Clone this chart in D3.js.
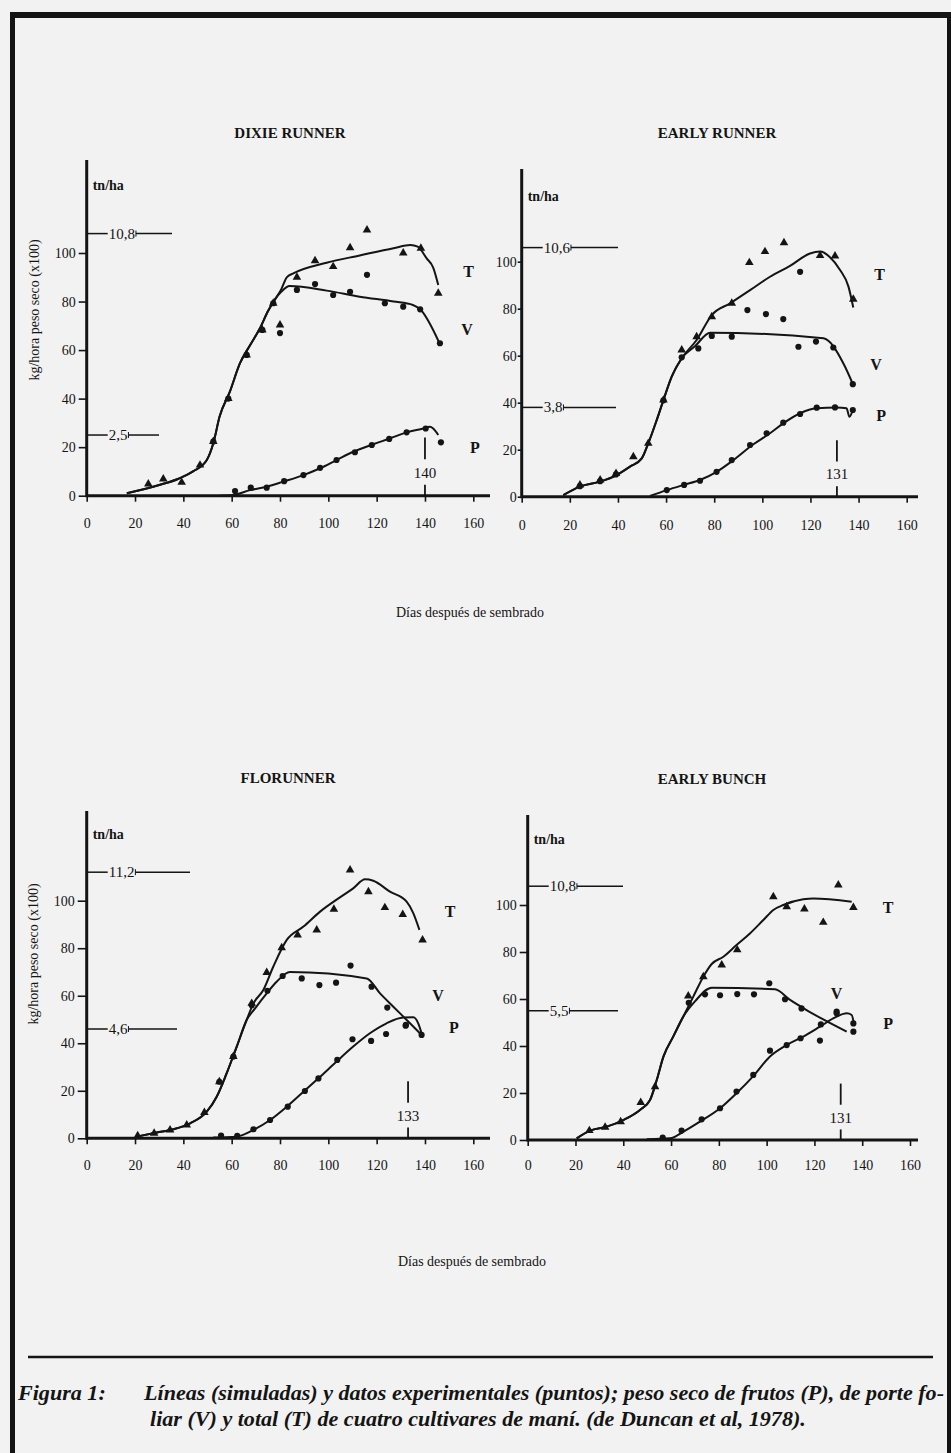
<!DOCTYPE html>
<html>
<head>
<meta charset="utf-8">
<script src="https://cdn.jsdelivr.net/npm/d3@7"></script>
<style>
  body { margin: 0; background: #f2f2f2; }
  svg { display: block; }
  text { font-family: "Liberation Serif", "Times New Roman", serif; fill: #141414; }
</style>
</head>
<body>
<svg id="fig" width="951" height="1453"></svg>
<script>
// ---- data: [dias, kg/hora x100] ----
const xTicks = [0, 20, 40, 60, 80, 100, 120, 140, 160];
const yTicks = [0, 20, 40, 60, 80, 100];
const cultivars = ["DIXIE RUNNER", "EARLY RUNNER", "FLORUNNER", "EARLY BUNCH"];
const harvestDays = [140, 131, 133, 131];
const refValues = [[108, 25], [106, 38], [112, 46], [108, 55]];
const refLabels = [["10,8", "2,5"], ["10,6", "3,8"], ["11,2", "4,6"], ["10,8", "5,5"]];

// DIXIE RUNNER
const dixieLineT = [[16.6,1],[30,4.4],[38,7],[44,10],[49.7,14.7],[52.4,21.6],[55,32.6],[59.3,43],[63.4,54.5],[67.6,62],[71.7,69],[75,76],[78,81],[80.5,85],[82.8,90],[85.5,91.6],[99.3,96],[113,99],[127,102],[134,103.3],[137,102.6],[140.7,97.8],[143.4,94],[145.5,86.8]];
const dixieLineV = [[16.6,1],[30,4.4],[38,7],[44,10],[49.7,14.7],[52.4,21.6],[55,32.6],[59.3,43],[63.4,54.5],[67.6,62],[71.7,69],[75,76],[78,81],[80.5,84],[84,86.4],[99.3,84.5],[113,82],[127,80],[135,78.6],[138,76.8],[146,62.8]];
const dixieLineP = [[55,0],[60.7,0.3],[67.6,2.3],[74.5,3.7],[81.4,5.8],[89.7,8.5],[96.6,11.3],[103.4,14.7],[110.3,18.1],[118.6,21.2],[125.5,23.6],[132.4,26.1],[139.3,27.7],[142,28.4],[143.4,27.7],[145.5,25]];
const dixieObsT = [[25.5,4.8],[31.7,6.9],[39.3,5.5],[46.9,12.6],[52.4,22.3],[58.6,40],[66.2,58],[72.7,68.3],[77.2,79.3],[80,70.3],[87,90],[94.5,96.8],[102,94.4],[109,102.2],[116,109.5],[131,100],[138.3,102],[145.5,83.4]];
const dixieObsV = [[52.4,22.3],[58.6,40],[66.2,58],[72.7,68.3],[77.2,79.3],[80,67],[87,84.8],[94.5,87.2],[102,82.7],[109,84],[116,91],[123.4,79.3],[131,77.9],[138,76.8],[146.2,62.8]];
const dixieObsP = [[61.4,1.9],[67.9,3.3],[74.5,3.3],[81.7,6],[89.7,8.5],[96.6,11.5],[103.4,14.7],[111,17.9],[118,20.9],[125.2,23.4],[132.4,26.1],[140.3,27.7],[146.6,22]];

// EARLY RUNNER
const earlyRunnerLineT = [[17.3,0.7],[24.2,4.3],[32.6,6.4],[39.5,9.2],[45,12.8],[49.9,16.3],[52.6,22.7],[56.1,32.6],[58.9,41.1],[62.3,51],[66.5,58.9],[72.7,66.7],[79,77.3],[86.6,82.3],[94.9,87.9],[103.2,93.6],[111.5,98.2],[119.8,103.5],[124,104.3],[128,102],[132.3,96.5],[135.8,89.4],[137.8,80.5]];
const earlyRunnerLineV = [[17.3,0.7],[24.2,4.3],[32.6,6.4],[39.5,9.2],[45,12.8],[49.9,16.3],[52.6,22.7],[56.1,32.6],[58.9,41.1],[62.3,51],[66.5,58.9],[72,64],[78.3,69.8],[125.4,67.4],[133.7,56.7],[137.8,47.5]];
const earlyRunnerLineP = [[53.3,0.3],[60.3,2.8],[67.2,5],[74.1,7.1],[81,10.6],[88,15.6],[96.3,22.3],[103.2,27],[108.7,31.2],[115.7,35.5],[122.6,37.6],[130.9,38],[135,37.6],[136.2,34],[137.6,36.9]];
const earlyRunnerObsT = [[24.2,5],[32.6,7.1],[39.2,9.9],[46.4,17],[52.6,22.7],[58.9,41.1],[66.5,62.4],[72.7,68.1],[79,76.6],[87.3,82.3],[94.6,99.6],[101.1,104.3],[109,108.1],[124,102.6],[130.2,102.4],[137.8,84]];
const earlyRunnerObsV = [[24.2,4.5],[32.6,6.6],[39.2,9.5],[58.9,41],[66.5,59.3],[73.4,63.1],[79,68.4],[87.3,68.1],[93.8,79.4],[101.5,77.7],[108.7,75.6],[115.7,95.7],[115,63.8],[122.3,66],[129.5,63.5],[137.6,47.9]];
const earlyRunnerObsP = [[60.3,2.8],[67.5,5],[74.1,6.8],[81,10.6],[87.3,15.6],[94.9,22],[101.8,27],[108.7,31.5],[115.7,35.2],[122.6,37.9],[130.2,38],[137.6,36.9]];

// FLORUNNER
const florunnerLineT = [[20.7,0.7],[29,2.4],[35.9,3.8],[42.8,6.3],[49.7,11.2],[53.8,17.5],[57.9,27.3],[62.1,38.6],[66.2,49.8],[69,56.8],[73.1,62.4],[77.2,72.2],[82.8,83.5],[89.7,89.1],[96.6,95.4],[104.8,101.4],[110.3,105.2],[115.2,109],[118.6,108.4],[125.5,103.8],[132.4,99.6],[135.2,94.7],[137.7,87.7]];
const florunnerLineV = [[20.7,0.7],[29,2.4],[35.9,3.8],[42.8,6.3],[49.7,11.2],[53.8,17.5],[57.9,27.3],[62.1,38.6],[66.2,49.8],[69.7,54.7],[74.5,61],[78.6,65.9],[84.1,70],[115.9,67.3],[121.4,61],[126.9,55.4],[133.8,48.4],[137.9,44.2]];
const florunnerLineP = [[52.4,0.3],[62,0.7],[69,3.5],[75.9,7.7],[82.8,13.3],[89.7,19.6],[96.6,25.9],[103.4,32.3],[110.3,38.6],[117.2,44.2],[124.1,48.4],[131,50.8],[135.2,50.9],[137.2,48.4],[138.6,44.2]];
const florunnerObsT = [[21.1,1.1],[27.9,2.1],[34.5,3.5],[41.4,5.6],[48.7,10.9],[54.9,23.8],[60.7,34.4],[68.3,56.8],[74.5,69.8],[80.7,80.2],[87.3,85.6],[95.2,87.7],[102.3,96.4],[109,112.9],[116.6,103.8],[123.4,97.1],[130.8,94.2],[139,83.5]];
const florunnerObsV = [[54.9,23.8],[60.7,34.4],[68.3,56],[74.8,62.1],[81.1,68.3],[89,67.3],[96.3,64.5],[103.2,65.5],[109.2,72.7],[117.9,63.8],[124.4,55],[132.1,47.7],[138.6,43.5]];
const florunnerObsP = [[55.6,1.1],[62.3,1],[69,3.8],[75.9,7.7],[83.2,13.3],[90.3,19.9],[95.9,25.2],[103.7,33],[110,41.7],[117.7,41],[123.9,43.9],[132,47.4]];

// EARLY BUNCH
const earlyBunchLineT = [[20.5,0.7],[26.1,4],[33.1,5.7],[40,8.5],[47,12.8],[51.2,17],[54,25.5],[56.8,35.5],[60.9,44],[65.1,52.5],[69.3,61],[73.5,69.5],[77,74.9],[81.9,78],[87.4,83],[93,87.9],[98.6,93.6],[102.8,97.9],[107,100],[115.3,102.4],[119.5,102.8],[135.6,101.4]];
const earlyBunchLineV = [[20.5,0.7],[26.1,4],[33.1,5.7],[40,8.5],[47,12.8],[51.2,17],[54,25.5],[56.8,35.5],[60.9,44],[65.1,52.5],[70,59],[77,64.8],[103.5,64.1],[109.8,59.6],[116.7,55.3],[123.7,51.3],[133.5,46.1]];
const earlyBunchLineP = [[49.8,0.3],[59.6,0.7],[65.1,3.5],[72.1,7.8],[80.5,13.5],[87.4,19.9],[94.4,27.2],[101.4,35.5],[108.4,40.4],[115.3,44],[122.3,48.2],[129.3,52.5],[133.5,53.9],[135.6,53.2],[136.5,49.6]];
const earlyBunchObsT = [[25.8,4],[32.4,5.4],[38.9,7.8],[47.3,16],[53.3,22.7],[67.2,61.3],[73.5,69.5],[81.2,74.5],[87.7,80.9],[102.8,103.5],[108.4,99.3],[115.8,98.3],[123.7,92.6],[130,108.5],[136.3,98.9]];
const earlyBunchObsV = [[67.4,58.4],[74.2,62],[80.5,61.6],[87.7,62.1],[94.7,62],[101.1,66.7],[107.7,59.9],[114.6,56],[129.3,54.6],[136.3,46.1]];
const earlyBunchObsP = [[56.5,1],[64.4,4],[72.8,8.8],[80.5,13.5],[87.4,20.6],[94.4,27.7],[101.4,38],[108.4,40.4],[114.2,43.3],[122.3,42.3],[122.7,49.2],[129.3,53.9],[136.3,49.6]];

// curve end labels T / V / P, in data units
const seriesLabelPos = [
  [[158, 92.7], [157.4, 68.7], [160.7, 20.2]],
  [[148.7, 94.8], [147.3, 56.5], [149.4, 34.8]],
  [[150.4, 95.8], [145.4, 60.3], [152, 47]],
  [[150.8, 99.3], [129.3, 62.6], [150.8, 49.8]]
];

const series = [
  { lines: [dixieLineT, dixieLineV, dixieLineP], obsT: dixieObsT, dots: [dixieObsV, dixieObsP] },
  { lines: [earlyRunnerLineT, earlyRunnerLineV, earlyRunnerLineP], obsT: earlyRunnerObsT, dots: [earlyRunnerObsV, earlyRunnerObsP] },
  { lines: [florunnerLineT, florunnerLineV, florunnerLineP], obsT: florunnerObsT, dots: [florunnerObsV, florunnerObsP] },
  { lines: [earlyBunchLineT, earlyBunchLineV, earlyBunchLineP], obsT: earlyBunchObsT, dots: [earlyBunchObsV, earlyBunchObsP] }
];

// ---- layout (pixels) ----
const layout = [
  { x0: 86.7, x1: 473.3, y0: 495.7, y1: 253, top: 160, right: 490, tx: 290, ty: 138, tick: 8, pad: 3, xpad: 16, refEnd: [172, 159] },
  { x0: 521.7, x1: 906.7, y0: 496.7, y1: 261.7, top: 169, right: 918, tx: 717, ty: 138, tick: 4, pad: 1, xpad: 17, refEnd: [618, 616] },
  { x0: 86.7, x1: 473.3, y0: 1138.3, y1: 900.7, top: 811, right: 490, tx: 288, ty: 783, tick: 9, pad: 3, xpad: 16, refEnd: [190, 177] },
  { x0: 527.7, x1: 910, y0: 1140, y1: 905, top: 815, right: 918, tx: 712, ty: 784, tick: 8, pad: 3, xpad: 14, refEnd: [623, 618] }
];

const svg = d3.select("#fig");
const ink = "#141414";

svg.append("rect").attr("width", 951).attr("height", 1453).attr("fill", "#f2f2f2");

// page frame
svg.append("line").attr("x1", 10).attr("x2", 951).attr("y1", 15).attr("y2", 15)
  .attr("stroke", ink).attr("stroke-width", 6);
svg.append("line").attr("x1", 12.5).attr("x2", 12.5).attr("y1", 12).attr("y2", 1453)
  .attr("stroke", ink).attr("stroke-width", 5);
svg.append("line").attr("x1", 949).attr("x2", 949).attr("y1", 12).attr("y2", 1453)
  .attr("stroke", ink).attr("stroke-width", 4);

const line = d3.line().curve(d3.curveMonotoneX);
const tri = d3.symbol(d3.symbolTriangle, 32);
const dot = d3.symbol(d3.symbolCircle, 30);

layout.forEach((L, i) => {
  const x = d3.scaleLinear().domain([0, 160]).range([L.x0, L.x1]);
  const y = d3.scaleLinear().domain([0, 100]).range([L.y0, L.y1]);
  const g = svg.append("g");
  const s = series[i];

  g.append("text").attr("x", L.tx).attr("y", L.ty).attr("text-anchor", "middle")
    .attr("font-size", 15).attr("font-weight", "bold").text(cultivars[i]);

  // axes
  const ax = g.append("g").attr("transform", `translate(0,${L.y0})`)
    .call(d3.axisBottom(x).tickValues(xTicks).tickSize(6).tickPadding(L.xpad));
  const ay = g.append("g").attr("transform", `translate(${L.x0},0)`)
    .call(d3.axisLeft(y).tickValues(yTicks).tickSize(L.tick).tickPadding(L.pad));
  [ax, ay].forEach(a => {
    a.select(".domain").remove();
    a.selectAll("line").attr("stroke", ink).attr("stroke-width", 1.6);
    a.selectAll("text").attr("font-size", 14).attr("fill", ink)
      .style("font-family", '"Liberation Serif", serif');
  });
  g.append("line").attr("x1", L.x0).attr("x2", L.right).attr("y1", L.y0).attr("y2", L.y0)
    .attr("stroke", ink).attr("stroke-width", 3);
  g.append("line").attr("x1", L.x0).attr("x2", L.x0).attr("y1", L.top).attr("y2", L.y0 + 1.5)
    .attr("stroke", ink).attr("stroke-width", 3);

  g.append("text").attr("x", L.x0 + 6).attr("y", y(128) + 5)
    .attr("font-size", 14).attr("font-weight", "bold").text("tn/ha");

  // reference yields
  refValues[i].forEach((v, k) => {
    const yy = y(v);
    const t = g.append("text").attr("x", L.x0 + 22).attr("y", yy + 5)
      .attr("font-size", 15).text(refLabels[i][k]);
    const w = t.node().getComputedTextLength();
    g.append("line").attr("x1", L.x0).attr("x2", L.x0 + 21).attr("y1", yy).attr("y2", yy)
      .attr("stroke", ink).attr("stroke-width", 1.5);
    g.append("line").attr("x1", L.x0 + 23 + w).attr("x2", L.refEnd[k]).attr("y1", yy).attr("y2", yy)
      .attr("stroke", ink).attr("stroke-width", 1.5);
    g.append("line").attr("x1", L.x0 + 23 + w).attr("x2", L.x0 + 23 + w).attr("y1", yy - 3).attr("y2", yy + 3)
      .attr("stroke", ink).attr("stroke-width", 1);
  });

  // harvest day
  const hx = x(harvestDays[i]);
  g.append("line").attr("x1", hx).attr("x2", hx).attr("y1", y(24)).attr("y2", y(15))
    .attr("stroke", ink).attr("stroke-width", 1.8);
  g.append("line").attr("x1", hx).attr("x2", hx).attr("y1", y(4.5)).attr("y2", y(0))
    .attr("stroke", ink).attr("stroke-width", 1.8);
  g.append("text").attr("x", hx).attr("y", y(9.5) + 5).attr("text-anchor", "middle")
    .attr("font-size", 15).text(harvestDays[i]);

  // simulated lines
  s.lines.forEach(d => {
    g.append("path").datum(d.map(p => [x(p[0]), y(p[1])]))
      .attr("d", line).attr("fill", "none").attr("stroke", ink)
      .attr("stroke-width", 2).attr("stroke-linejoin", "round");
  });

  // observations
  g.selectAll(null).data(s.obsT).join("path")
    .attr("transform", d => `translate(${x(d[0])},${y(d[1])})`)
    .attr("d", tri).attr("fill", ink);
  s.dots.forEach(arr => {
    g.selectAll(null).data(arr).join("path")
      .attr("transform", d => `translate(${x(d[0])},${y(d[1])})`)
      .attr("d", dot).attr("fill", ink);
  });

  ["T", "V", "P"].forEach((lab, k) => {
    const p = seriesLabelPos[i][k];
    g.append("text").attr("x", x(p[0])).attr("y", y(p[1]) + 6).attr("text-anchor", "middle")
      .attr("font-size", 16).attr("font-weight", "bold").text(lab);
  });
});

// axis titles
[[34, 310], [33, 954]].forEach(([cx, cy]) => {
  svg.append("text").attr("transform", `translate(${cx + 5},${cy}) rotate(-90)`)
    .attr("text-anchor", "middle").attr("font-size", 14).text("kg/hora peso seco (x100)");
});
[[470, 617], [472, 1266]].forEach(([cx, cy]) => {
  svg.append("text").attr("x", cx).attr("y", cy).attr("text-anchor", "middle")
    .attr("font-size", 14).text("Días después de sembrado");
});

// caption
svg.append("line").attr("x1", 28).attr("x2", 933).attr("y1", 1357).attr("y2", 1357)
  .attr("stroke", ink).attr("stroke-width", 2.5);
const cap = svg.append("g").attr("font-size", 21).attr("font-weight", "bold").attr("font-style", "italic")
  .style("font-family", '"Liberation Serif", serif');
const c0 = cap.append("text").attr("x", 18).attr("y", 1400).text("Figura 1:");
const c1 = cap.append("text").attr("x", 144).attr("y", 1400)
  .text("Líneas (simuladas) y datos experimentales (puntos); peso seco de frutos (P), de porte fo-");
const c2 = cap.append("text").attr("x", 150).attr("y", 1426)
  .text("liar (V) y total (T) de cuatro cultivares de maní. (de Duncan et al, 1978).");
const w1 = c1.node().getComputedTextLength();
const squeeze = 800 / w1;
[c0, c2].forEach(t => {
  const w = t.node().getComputedTextLength();
  t.attr("textLength", w * squeeze).attr("lengthAdjust", "spacingAndGlyphs");
});
c1.attr("textLength", 800).attr("lengthAdjust", "spacingAndGlyphs");
</script>
</body>
</html>
